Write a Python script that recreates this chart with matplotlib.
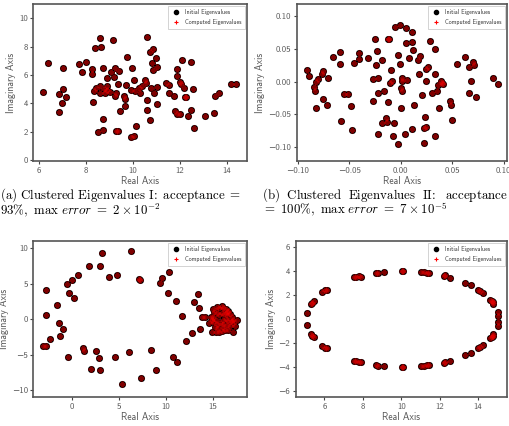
import matplotlib
matplotlib.use("Agg")
import matplotlib.pyplot as plt
from matplotlib.lines import Line2D

plt.rcParams['mathtext.fontset'] = 'cm'

# ---------------- data ----------------
a_re = [6.18, 6.37, 7.01, 7.01, 6.84, 7.14, 7.00, 6.84, 7.69, 7.99, 7.85, 8.26, 8.26, 8.37, 8.59,
        8.63, 8.30, 8.36, 8.43, 8.59, 8.60, 8.74, 8.71, 8.50, 8.73, 8.91, 8.88, 8.77, 8.91, 8.81,
        9.03, 9.08, 9.24, 9.17, 9.20, 9.28, 9.25, 9.38, 9.41, 9.27, 9.35, 9.45, 9.62, 9.65, 9.65,
        9.74, 9.71, 9.98, 10.06, 9.92, 9.91, 10.06, 10.12, 10.11, 10.28, 10.30, 10.41, 10.53, 10.55,
        10.61, 10.74, 10.87, 10.82, 10.97, 10.87, 11.03, 10.76, 10.91, 10.60, 10.61, 10.71, 11.04,
        11.05, 11.40, 11.54, 11.56, 11.77, 11.86, 11.87, 11.81, 11.89, 12.00, 12.00, 12.06, 12.10,
        12.19, 12.24, 12.26, 12.36, 12.49, 12.56, 12.48, 12.59, 13.07, 13.49, 13.47, 13.68, 14.17, 14.41]
a_im = [4.80, 6.86, 6.49, 5.03, 4.66, 4.45, 4.05, 3.42, 6.77, 6.93, 6.23, 6.44, 6.09, 7.89, 8.64,
        7.96, 4.07, 4.89, 5.11, 5.22, 4.75, 6.49, 2.93, 1.99, 2.11, 5.81, 5.22, 4.99, 4.94, 4.71,
        4.82, 6.18, 6.51, 8.48, 5.88, 4.71, 4.52, 5.36, 6.30, 2.06, 2.06, 3.44, 4.52, 4.31, 3.82,
        7.24, 5.27, 6.51, 5.64, 4.94, 1.64, 1.69, 2.39, 4.89, 5.06, 4.73, 5.25, 5.64, 5.46,
        8.71, 7.63, 7.80, 6.84, 7.17, 6.35, 6.56, 5.08, 4.75, 4.26, 3.51, 2.86, 5.15,
        3.98, 5.43, 5.32, 4.75, 4.52, 6.44, 5.95, 3.49, 3.23, 3.28, 5.50, 5.36, 7.05,
        5.11, 4.45, 4.47, 3.14, 6.89, 5.03, 3.54, 2.25, 3.14, 4.50, 3.30, 4.75, 5.36, 5.36]

b_re = [-0.0914, -0.0891, -0.0846, -0.0830, -0.0820, -0.0800, -0.0768, -0.0752, -0.0707, -0.0820,
        -0.0752, -0.0713, -0.0655, -0.0593, -0.0587, -0.0548, -0.0512, -0.0577, -0.0480, -0.0470,
        -0.0451, -0.0408, -0.0402, -0.0318, -0.0272, -0.0266, -0.0250, -0.0243, -0.0230, -0.0217,
        -0.0224, -0.0217, -0.0182, -0.0165, -0.0182, -0.0120, -0.0110, -0.0139, -0.0136, -0.0126,
        -0.0097, -0.0100, -0.0088, -0.0062, -0.0075, -0.0055, -0.0023, -0.0029, -0.0003, -0.0006,
        0.0010, 0.0010, 0.0003, 0.0010, 0.0000, 0.0052, 0.0049, 0.0058, 0.0045, 0.0084,
        0.0107, 0.0113, 0.0117, 0.0126, 0.0113, 0.0169, 0.0188, 0.0178, 0.0204, 0.0230,
        0.0246, 0.0237, 0.0230, 0.0246, 0.0269, 0.0246, 0.0288, 0.0308, 0.0334, 0.0337,
        0.0350, 0.0366, 0.0373, 0.0337, 0.0392, 0.0405, 0.0415, 0.0483, 0.0489, 0.0502,
        0.0545, 0.0629, 0.0668, 0.0681, 0.0668, 0.0700, 0.0713, 0.0733, 0.0895, 0.0947]
b_im = [0.0179, 0.0087, -0.0077, -0.0138, -0.0005, 0.0046, 0.0118, 0.0169, 0.0061, -0.0414,
        -0.0261, -0.0368, 0.0384, 0.0455, 0.0266, -0.0189, -0.0189, -0.0609, -0.0373, -0.0747,
        0.0281, 0.0440, 0.0343, 0.0368, 0.0046, -0.0302, 0.0650, 0.0256, 0.0476, 0.0061,
        -0.0174, -0.0808, 0.0332, -0.0138, -0.0639, 0.0650, 0.0660, -0.0563, -0.0619, -0.0312,
        0.0184, -0.0026, 0.0010, -0.0639, -0.0834, 0.0839, 0.0409, -0.0957, 0.0875, 0.0266,
        0.0056, 0.0015, -0.0107, -0.0138, -0.0399, 0.0818, 0.0598, 0.0020, -0.0803, 0.0363,
        0.0762, 0.0614, 0.0486, -0.0353, -0.0726, 0.0338, 0.0394, 0.0113, -0.0210, -0.0716,
        -0.0701, -0.0542, -0.0946, 0.0189, 0.0220, 0.0010, 0.0629, -0.0179, 0.0118, 0.0506,
        -0.0138, -0.0061, -0.0404, -0.0839, 0.0015, -0.0026, -0.0041, -0.0302, -0.0353, -0.0598,
        0.0266, 0.0379, 0.0225, 0.0015, -0.0179, 0.0302, 0.0246, -0.0240, 0.0056, -0.0041]

c_re = [-2.76, -2.69, -3.00, -2.76, -2.30, -1.52, -1.34, -1.24, -0.88, -0.53, -0.25, -0.35, 0.00,
        0.21, 0.71, 1.20, 1.27, 1.87, 2.01, 2.58, 2.86, 3.00, 3.04, 3.25, 3.92, 4.63, 4.77, 5.37,
        6.04, 6.33, 7.17, 7.28, 7.31, 8.41, 8.98, 9.36, 9.58, 10.21, 10.35, 10.71, 11.06, 11.20,
        11.70, 12.08, 12.72, 12.97, 13.43, 13.53, 13.60, 13.85, 14.13,
        15.02, 15.37, 15.65, 15.90, 16.08, 16.32, 16.61, 16.78, 16.96, 17.14, 17.49, 17.14, 17.31,
        16.78, 17.07, 16.61, 16.25, 15.90, 15.65, 15.30, 14.91, 14.59, 14.84, 14.73, 15.02, 15.02,
        15.30, 15.44, 15.72, 16.01, 16.08, 16.36, 16.43, 16.15, 15.90, 15.65, 15.44, 16.61, 16.85,
        16.43, 16.08, 15.55, 15.19, 15.12, 16.43]
c_im = [4.10, 0.57, -3.82, -3.82, -2.83, 1.98, -0.52, -2.41, -1.32, 4.91, 3.73, -5.33, 5.52,
        2.92, 6.27, -4.01, -4.43, 7.50, -7.08, -4.53, -5.52, 7.55, -7.17, 9.29, 5.99, -5.38, 6.27,
        -9.10, -4.58, 9.58, 5.61, 5.57, -8.35, -4.29, -7.17, 5.05, 5.85, 3.73, 6.70, -5.38, 2.55,
        -6.08, 0.47, -3.07, -1.98, 2.45, 3.58, 1.60, -1.37, 0.24, 0.33,
        1.42, 1.65, 1.51, 1.84, 1.56, 1.37, 1.13, 0.66, 0.33, -0.05, -0.14, -0.61, -0.94,
        -0.99, -1.79, -1.46, -1.56, -1.65, -1.84, -1.84, -1.79, -0.61, -0.14, 0.24, 0.33, -0.38,
        -0.05, -0.71, -0.61, -0.71, -0.14, 0.09, 0.57, 0.71, 0.80, 0.57, 0.80, -0.24, -0.24,
        -0.85, -1.08, -1.18, -1.08, 1.04, 1.04]

d_re = [5.09, 5.28, 5.35, 5.45, 5.89, 6.05, 6.12, 7.53, 7.65, 7.82, 7.89, 8.71, 8.78, 9.08, 10.02,
        10.09, 11.05, 11.18, 11.32, 11.45, 12.21, 12.30, 12.56, 13.34, 13.62, 14.02, 14.13, 14.27,
        14.65, 14.72, 14.76, 14.81, 15.04, 15.07,
        5.09, 5.28, 5.35, 5.45, 5.89, 6.05, 6.12, 7.53, 7.65, 7.82, 7.89, 8.71, 8.78, 9.08, 10.02,
        10.09, 11.05, 11.18, 11.32, 11.45, 12.21, 12.30, 12.56, 13.34, 13.62, 14.02, 14.13, 14.27,
        14.65, 14.72, 14.76, 14.81, 15.04, 15.07]
d_im = [0.50, 1.22, 1.35, 1.52, 2.24, 2.38, 2.43, 3.45, 3.51, 3.56, 3.51, 3.84, 3.84, 3.90, 4.00,
        3.98, 3.90, 3.87, 3.84, 3.84, 3.59, 3.62, 3.43, 3.01, 2.79, 2.43, 2.35, 2.15,
        1.57, 1.50, 1.44, 1.24, 0.55, 0.25,
        -0.50, -1.25, -1.38, -1.52, -2.22, -2.38, -2.44, -3.45, -3.49, -3.56, -3.53, -3.85, -3.86,
        -3.90, -4.00, -3.97, -3.91, -3.88, -3.85, -3.82, -3.62, -3.60, -3.46, -3.01, -2.83, -2.44,
        -2.33, -2.15, -1.58, -1.48, -1.40, -1.28, -0.55, -0.25]

a_xticks = [6, 8, 10, 12, 14]
a_yticks = [0, 2, 4, 6, 8, 10]
b_ticks = [-0.10, -0.05, 0.00, 0.05, 0.10]
c_xticks = [0, 5, 10, 15]
c_yticks = [-10, -5, 0, 5, 10]
d_xticks = [6, 8, 10, 12, 14]
d_yticks = [-6, -4, -2, 0, 2, 4, 6]

caption_a = [r'$\mathrm{(a)\ Clustered\ Eigenvalues\ I\!:\ acceptance\ =}$',
             r'$\mathrm{93\%,\ max}\ error\ \mathrm{=}\ 2\times10^{-2}$']
caption_b = [r'$\mathrm{(b)\ \ Clustered\ \ Eigenvalues\ \ II\!:\ \ acceptance}$',
             r'$\mathrm{=\ 100\%,\ max}\ error\ \mathrm{=}\ 7\times10^{-5}$']

# ---------------- figure ----------------
W, H = 510, 426
fig = plt.figure(figsize=(W / 100, H / 100), dpi=100)

SANS = ['cmss10', 'DejaVu Sans']
GREY = '#555555'


def make_ax(l, r, t, b):
    return fig.add_axes([l / W, 1 - b / H, (r - l) / W, (b - t) / H])


def style(ax, xy_init, xy_comp, xlim, ylim, xt, yt, fmt=None):
    ax.scatter(*xy_init, s=26, c='black', marker='o', linewidths=0, zorder=2,
               label='Initial Eigenvalues')
    ax.scatter(*xy_comp, s=16, c='red', marker='+', linewidths=2.0, alpha=0.5, zorder=3,
               label='Computed Eigenvalues')
    ax.set_xlim(*xlim)
    ax.set_ylim(*ylim)
    ax.set_xticks(xt)
    ax.set_yticks(yt)
    if fmt:
        ax.set_xticklabels([fmt.format(v).replace('-', '\u2212') for v in xt])
        ax.set_yticklabels([fmt.format(v).replace('-', '\u2212') for v in yt])
    for lab in ax.get_xticklabels() + ax.get_yticklabels():
        lab.set_family(SANS)
        lab.set_fontsize(6.3)
        lab.set_color(GREY)
    ax.tick_params(length=2.5, width=0.8, color='#444444', pad=1.5)
    for sp in ax.spines.values():
        sp.set_color('#555555')
        sp.set_linewidth(1.2)
    ax.set_xlabel('Real Axis', family=SANS, fontsize=7, color=GREY, labelpad=1)
    ax.set_ylabel('Imaginary Axis', family=SANS, fontsize=7, color=GREY, labelpad=2)
    handles = [Line2D([], [], ls='none', marker='o', color='black', markersize=3),
               Line2D([], [], ls='none', marker='+', color='red', markersize=3, mew=0.8)]
    leg = ax.legend(handles, ['Initial Eigenvalues', 'Computed Eigenvalues'], loc='upper right',
                    prop={'family': SANS, 'size': 4.3}, fancybox=False, framealpha=1,
                    edgecolor='#cccccc', handlelength=1.5, borderpad=0.6, labelspacing=0.6,
                    borderaxespad=0.3)
    leg.get_frame().set_linewidth(0.6)
    for t in leg.get_texts():
        t.set_color('#333333')


axa = make_ax(33.3, 246.7, 4, 161)
style(axa, (a_re, a_im), (a_re, a_im), (5.76, 14.85), (-0.05, 11.0), a_xticks, a_yticks)

axb = make_ax(296.7, 506.7, 4, 161)
style(axb, (b_re, b_im), (b_re, b_im), (-0.101, 0.103), (-0.122, 0.119), b_ticks, b_ticks,
      fmt='{:.2f}')

axc = make_ax(33.3, 246.7, 241, 397.3)
style(axc, (c_re, c_im), (c_re, c_im), (-4.06, 18.55), (-11.0, 11.0), c_xticks, c_yticks)

axd = make_ax(295.7, 506.7, 241, 397.3)
style(axd, (d_re, d_im), (d_re, d_im), (4.5, 15.5), (-6.49, 6.46), d_xticks, d_yticks)

# captions
for (x0, lines) in [(0, caption_a), (262, caption_b)]:
    for i, line in enumerate(lines):
        fig.text(x0 / W, 1 - (199 + 15 * i) / H, line, fontsize=9.3, va='baseline',
                 ha='left', color='black')

fig.savefig('out.png', dpi=100)
